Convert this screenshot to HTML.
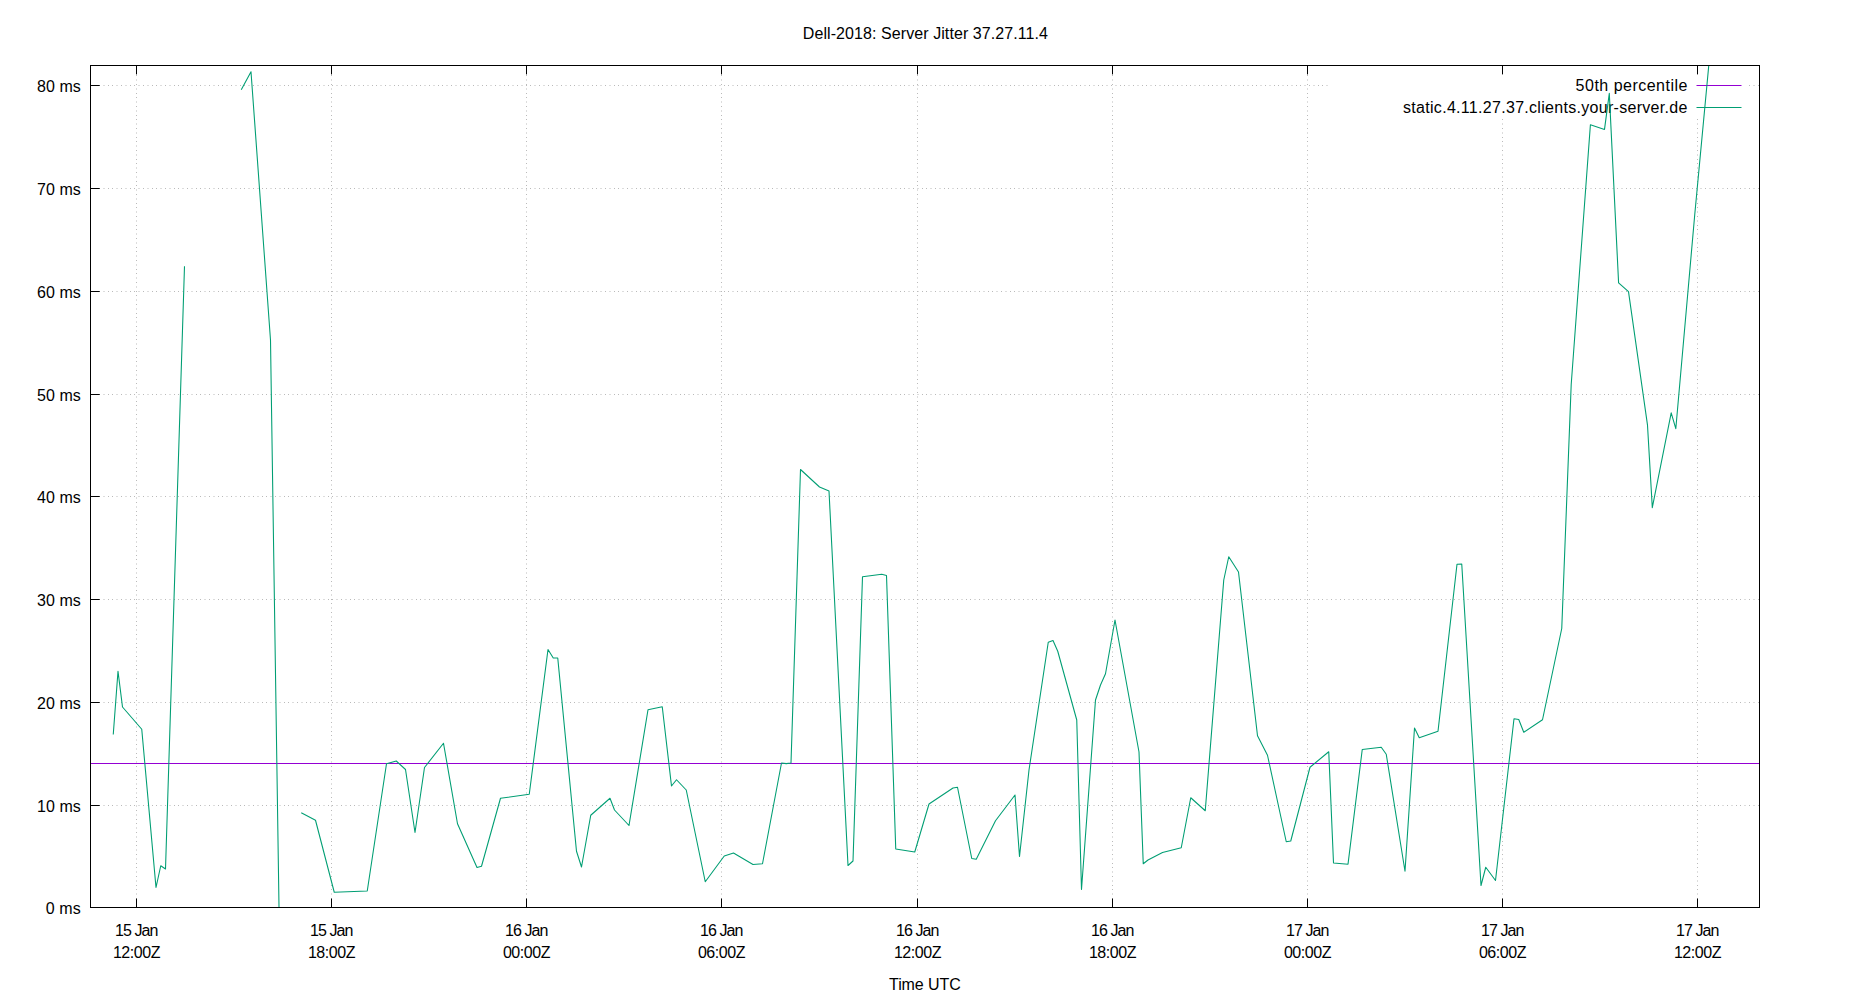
<!DOCTYPE html>
<html><head><meta charset="utf-8"><title>Dell-2018: Server Jitter 37.27.11.4</title>
<style>html,body{margin:0;padding:0;background:#fff;overflow:hidden}body{width:1850px;height:1000px}svg{display:block}text{font-family:"Liberation Sans",sans-serif;font-size:16px;fill:#000}</style></head><body>
<svg width="1850" height="1000" viewBox="0 0 1850 1000">
<defs><clipPath id="pc"><rect x="90" y="65" width="1670" height="843"/></clipPath></defs>
<rect width="1850" height="1000" fill="#fff"/>
<g clip-path="url(#pc)" stroke="#bababa" stroke-width="1" stroke-dasharray="1 3 1 3.5 1 3.5 1 3.5 1 3.5" fill="none">
<line x1="86" y1="805.5" x2="1759.5" y2="805.5"/>
<line x1="86" y1="702.5" x2="1759.5" y2="702.5"/>
<line x1="86" y1="599.5" x2="1759.5" y2="599.5"/>
<line x1="86" y1="496.5" x2="1759.5" y2="496.5"/>
<line x1="86" y1="394.5" x2="1759.5" y2="394.5"/>
<line x1="86" y1="291.5" x2="1759.5" y2="291.5"/>
<line x1="86" y1="188.5" x2="1759.5" y2="188.5"/>
<line x1="86" y1="85.5" x2="1759.5" y2="85.5"/>
<line x1="136.5" y1="49" x2="136.5" y2="907.5"/>
<line x1="331.5" y1="49" x2="331.5" y2="907.5"/>
<line x1="526.5" y1="49" x2="526.5" y2="907.5"/>
<line x1="721.5" y1="49" x2="721.5" y2="907.5"/>
<line x1="917.5" y1="49" x2="917.5" y2="907.5"/>
<line x1="1112.5" y1="49" x2="1112.5" y2="907.5"/>
<line x1="1307.5" y1="49" x2="1307.5" y2="907.5"/>
<line x1="1502.5" y1="49" x2="1502.5" y2="907.5"/>
<line x1="1697.5" y1="49" x2="1697.5" y2="907.5"/>
</g>
<rect x="1328" y="74.5" width="420.5" height="44.0" fill="#fff"/>
<g stroke="#000" stroke-width="1" fill="none">
<line x1="90.5" y1="907.5" x2="99.7" y2="907.5"/>
<line x1="90.5" y1="805.5" x2="99.7" y2="805.5"/>
<line x1="90.5" y1="702.5" x2="99.7" y2="702.5"/>
<line x1="90.5" y1="599.5" x2="99.7" y2="599.5"/>
<line x1="90.5" y1="496.5" x2="99.7" y2="496.5"/>
<line x1="90.5" y1="394.5" x2="99.7" y2="394.5"/>
<line x1="90.5" y1="291.5" x2="99.7" y2="291.5"/>
<line x1="90.5" y1="188.5" x2="99.7" y2="188.5"/>
<line x1="90.5" y1="85.5" x2="99.7" y2="85.5"/>
<line x1="136.5" y1="907.5" x2="136.5" y2="898.6"/><line x1="136.5" y1="65.5" x2="136.5" y2="74.4"/>
<line x1="331.5" y1="907.5" x2="331.5" y2="898.6"/><line x1="331.5" y1="65.5" x2="331.5" y2="74.4"/>
<line x1="526.5" y1="907.5" x2="526.5" y2="898.6"/><line x1="526.5" y1="65.5" x2="526.5" y2="74.4"/>
<line x1="721.5" y1="907.5" x2="721.5" y2="898.6"/><line x1="721.5" y1="65.5" x2="721.5" y2="74.4"/>
<line x1="917.5" y1="907.5" x2="917.5" y2="898.6"/><line x1="917.5" y1="65.5" x2="917.5" y2="74.4"/>
<line x1="1112.5" y1="907.5" x2="1112.5" y2="898.6"/><line x1="1112.5" y1="65.5" x2="1112.5" y2="74.4"/>
<line x1="1307.5" y1="907.5" x2="1307.5" y2="898.6"/><line x1="1307.5" y1="65.5" x2="1307.5" y2="74.4"/>
<line x1="1502.5" y1="907.5" x2="1502.5" y2="898.6"/><line x1="1502.5" y1="65.5" x2="1502.5" y2="74.4"/>
<line x1="1697.5" y1="907.5" x2="1697.5" y2="898.6"/><line x1="1697.5" y1="65.5" x2="1697.5" y2="74.4"/>
</g>
<text x="80.8" y="913.6" text-anchor="end" textLength="35.0" lengthAdjust="spacing">0 ms</text>
<text x="80.8" y="811.6" text-anchor="end" textLength="43.9" lengthAdjust="spacing">10 ms</text>
<text x="80.8" y="708.6" text-anchor="end" textLength="43.9" lengthAdjust="spacing">20 ms</text>
<text x="80.8" y="605.6" text-anchor="end" textLength="43.9" lengthAdjust="spacing">30 ms</text>
<text x="80.8" y="502.6" text-anchor="end" textLength="43.9" lengthAdjust="spacing">40 ms</text>
<text x="80.8" y="400.6" text-anchor="end" textLength="43.9" lengthAdjust="spacing">50 ms</text>
<text x="80.8" y="297.6" text-anchor="end" textLength="43.9" lengthAdjust="spacing">60 ms</text>
<text x="80.8" y="194.6" text-anchor="end" textLength="43.9" lengthAdjust="spacing">70 ms</text>
<text x="80.8" y="91.6" text-anchor="end" textLength="43.9" lengthAdjust="spacing">80 ms</text>
<text x="136.7" y="935.7" text-anchor="middle" textLength="43.2" lengthAdjust="spacing">15 Jan</text>
<text x="136.7" y="957.7" text-anchor="middle" textLength="47.6" lengthAdjust="spacing">12:00Z</text>
<text x="331.7" y="935.7" text-anchor="middle" textLength="43.2" lengthAdjust="spacing">15 Jan</text>
<text x="331.7" y="957.7" text-anchor="middle" textLength="47.6" lengthAdjust="spacing">18:00Z</text>
<text x="526.7" y="935.7" text-anchor="middle" textLength="43.2" lengthAdjust="spacing">16 Jan</text>
<text x="526.7" y="957.7" text-anchor="middle" textLength="47.6" lengthAdjust="spacing">00:00Z</text>
<text x="721.7" y="935.7" text-anchor="middle" textLength="43.2" lengthAdjust="spacing">16 Jan</text>
<text x="721.7" y="957.7" text-anchor="middle" textLength="47.6" lengthAdjust="spacing">06:00Z</text>
<text x="917.7" y="935.7" text-anchor="middle" textLength="43.2" lengthAdjust="spacing">16 Jan</text>
<text x="917.7" y="957.7" text-anchor="middle" textLength="47.6" lengthAdjust="spacing">12:00Z</text>
<text x="1112.7" y="935.7" text-anchor="middle" textLength="43.2" lengthAdjust="spacing">16 Jan</text>
<text x="1112.7" y="957.7" text-anchor="middle" textLength="47.6" lengthAdjust="spacing">18:00Z</text>
<text x="1307.7" y="935.7" text-anchor="middle" textLength="43.2" lengthAdjust="spacing">17 Jan</text>
<text x="1307.7" y="957.7" text-anchor="middle" textLength="47.6" lengthAdjust="spacing">00:00Z</text>
<text x="1502.7" y="935.7" text-anchor="middle" textLength="43.2" lengthAdjust="spacing">17 Jan</text>
<text x="1502.7" y="957.7" text-anchor="middle" textLength="47.6" lengthAdjust="spacing">06:00Z</text>
<text x="1697.7" y="935.7" text-anchor="middle" textLength="43.2" lengthAdjust="spacing">17 Jan</text>
<text x="1697.7" y="957.7" text-anchor="middle" textLength="47.6" lengthAdjust="spacing">12:00Z</text>
<text x="925.4" y="38.8" text-anchor="middle" textLength="245.2" lengthAdjust="spacing">Dell-2018: Server Jitter 37.27.11.4</text>
<text x="924.9" y="989.7" text-anchor="middle" textLength="71.7" lengthAdjust="spacing">Time UTC</text>
<text x="1687.4" y="91" text-anchor="end" textLength="111.8" lengthAdjust="spacing">50th percentile</text>
<text x="1687.4" y="112.6" text-anchor="end" textLength="284.4" lengthAdjust="spacing">static.4.11.27.37.clients.your-server.de</text>
<line x1="1696.5" y1="85.5" x2="1741.5" y2="85.5" stroke="#9400d3" stroke-width="1"/>
<line x1="90.5" y1="763.5" x2="1759.5" y2="763.5" stroke="#9400d3" stroke-width="1"/>
<line x1="1696.5" y1="107.5" x2="1741.5" y2="107.5" stroke="#009e73" stroke-width="1"/>
<g clip-path="url(#pc)" stroke="#009e73" stroke-width="1.08" fill="none" stroke-linejoin="round" stroke-linecap="butt">
<polyline points="113.25,734.5 118,671.25 122.5,707 141.75,729.25 156,887.5 160.75,865.75 165.5,869 184.5,266.25"/>
<polyline points="241.25,89.75 251,71.75 270.5,340 279,907"/>
<polyline points="301.25,812.75 315.5,820.25 334.25,892.25 367.25,891 386.5,763.75 396.25,761 405.5,769.5 415,832.5 424.5,767.5 443.5,743.25 457.5,823.75 477,867.5 481.5,866.25 500.5,798.25 529.25,794.25 548,649.5 553.25,658 557.75,658 576.5,851.25 581.5,867 590.75,815.25 610,798.25 614.5,810 629,825.5 648,709.75 662.25,706.75 671.5,786 676.5,779.75 686.25,790 705.25,881.75 724.25,856 733.5,853 753,864.5 762.5,863.75 781.5,763 786.25,763.6 791,763 800.5,469.5 819.5,487 829,491 848,865.5 853,861 862.5,576.75 881.75,574.25 886.5,575.5 895.75,849 914.75,852 929,804 953,788 957.5,787.25 971.75,858.5 976.25,859.25 995.5,820.75 1015,795 1019.5,856.5 1029,770 1048.25,642.25 1053,640.5 1057.75,651.25 1076.75,720 1081.5,889.5 1095.5,700 1100.5,685 1105.5,673.75 1115,620 1139,752 1143.25,863.75 1148,860 1162.5,852.5 1181.25,847.75 1190.75,797.75 1205.25,810.75 1223.75,580 1228.75,556.75 1238.5,572 1257.5,735.75 1267.5,755.25 1286.25,841.75 1290.75,841 1310,767.25 1328.75,751.75 1333.5,863 1348,864.25 1362.25,749.5 1381.25,747.25 1386.25,754.25 1405,871.25 1414.5,728 1419.25,737.75 1438,731.25 1457,564.25 1461.75,564 1481,885.5 1485.75,867.25 1495.5,880.5 1514,718.75 1518.75,719.5 1523.75,732.25 1542.5,719.75 1561.75,628.5 1571.2,384.5 1590.4,124.75 1604.5,129.4 1609.3,93.4 1618.6,282.9 1628.5,291.7 1647.5,425.2 1652.3,507.6 1671.2,412.9 1675.8,428.7 1694.8,214 1709,63"/>
</g>
<rect x="90.5" y="65.5" width="1669.0" height="842.0" fill="none" stroke="#000" stroke-width="1"/>
</svg></body></html>
